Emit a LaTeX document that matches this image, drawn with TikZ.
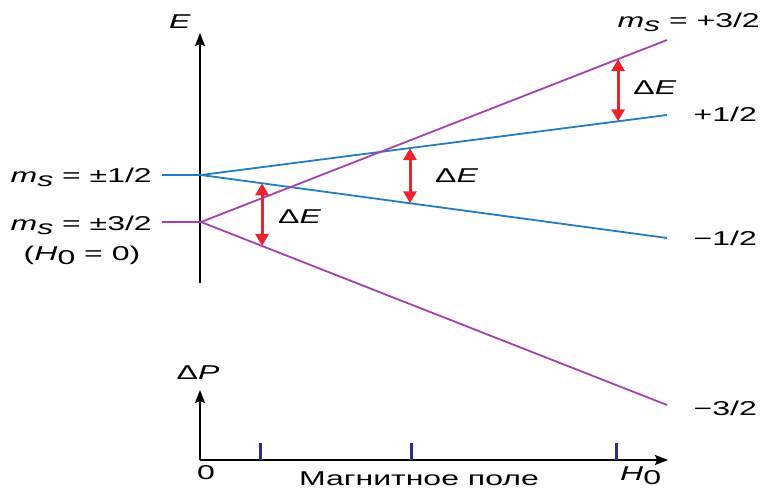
\documentclass[tikz,border=0pt]{standalone}
\usepackage{fontspec}
\setmainfont[FakeStretch=1.6]{Liberation Sans}
\usetikzlibrary{arrows.meta,calc}
\definecolor{lvlblue}{RGB}{35,125,195}
\definecolor{lvlpurple}{RGB}{165,65,175}
\definecolor{gapred}{RGB}{235,35,45}
\definecolor{ticknavy}{RGB}{45,45,140}
\newcommand{\ms}{\textit{m}\raisebox{-0.4ex}{\textit{s}}}
\newcommand{\Hzero}{\textit{H}\raisebox{-0.4ex}{0}}

\begin{document}
\begin{tikzpicture}[x=1pt,y=-1pt,
  lbl/.style={inner sep=0pt,font=\fontsize{20}{24}\selectfont},
  axis/.style={line width=1.5pt,-{Stealth[length=13pt,width=10pt,inset=2pt]}},
  blueline/.style={lvlblue,line width=1.8pt},
  purpleline/.style={lvlpurple,line width=1.8pt},
  gap/.style={gapred,line width=3pt,{Triangle[width=13pt,length=12pt]}-{Triangle[width=13pt,length=12pt]}},
  tickmark/.style={ticknavy,line width=3pt}]
\useasboundingbox (0,0) rectangle (764,488);
% energy axis
\coordinate (Ebot) at (200,283);
\coordinate (Etop) at (200,33);
\draw[axis] (Ebot) -- (Etop);
\node[lbl] (Elbl) at (180,22) {\textit{E}};
% levels at H0 = 0
\coordinate (bl) at (162,175);
\coordinate (b0) at (201,175);
\coordinate (pl) at (162,222);
\coordinate (p0) at (201,222);
% levels in the field
\coordinate (bu) at (667,115);
\coordinate (bd) at (667,238);
\coordinate (pu) at (667,40);
\coordinate (pd) at (667,405);
\draw[blueline] (bl) -- (b0) -- (bu);
\draw[blueline] (b0) -- (bd);
\draw[purpleline] (pl) -- (p0) -- (pu);
\draw[purpleline] (p0) -- (pd);
% transitions (Delta E)
\coordinate (g1t) at ($(b0)!0.131!(bd)$);
\coordinate (g1b) at ($(p0)!0.131!(pd)$);
\coordinate (g2t) at ($(b0)!0.4485!(bu)$);
\coordinate (g2b) at ($(b0)!0.4485!(bd)$);
\coordinate (g3t) at ($(p0)!0.895!(pu)$);
\coordinate (g3b) at ($(b0)!0.895!(bu)$);
\draw[gap] (g1t) -- (g1b);
\draw[gap] (g2t) -- (g2b);
\draw[gap] (g3t) -- (g3b);
\node[lbl,anchor=base west] (dE1) at (278,223) {Δ\textit{E}};
\node[lbl,anchor=base west] (dE2) at (435,182) {Δ\textit{E}};
\node[lbl,anchor=base] (dE3) at (655,94) {Δ\textit{E}};
% level labels
\node[lbl,anchor=base east] (lb1) at (152,182) {\ms{} = ±1/2};
\node[lbl,anchor=base east] (lb3) at (152,230) {\ms{} = ±3/2};
\node[lbl,anchor=base] (lbH) at (82,260) {(\Hzero{} = 0)};
\node[lbl,anchor=base east] (rp3) at (760,27) {\ms{} = +3/2};
\node[lbl,anchor=base east] (rp1) at (757,121) {+1/2};
\node[lbl,anchor=base east] (rm1) at (757,245) {−1/2};
\node[lbl,anchor=base east] (rm3) at (757,415) {−3/2};
% absorption spectrum
\coordinate (P0) at (200,460);
\coordinate (Ptop) at (200,390);
\coordinate (Hend) at (668,460);
\draw[axis] (P0) -- (Ptop);
\draw[axis] (P0) -- (Hend);
\foreach \tx in {260,411,616} {\draw[tickmark] (\tx,460) -- (\tx,443);}
\node[lbl] (dPlbl) at (198,373) {Δ\textit{P}};
\node[lbl] (zero) at (206,473) {0};
\node[lbl,anchor=base] (field) at (419,485) {Магнитное поле};
\node[lbl,anchor=base west] (H0lbl) at (620,480) {\Hzero};
\end{tikzpicture}
\end{document}
